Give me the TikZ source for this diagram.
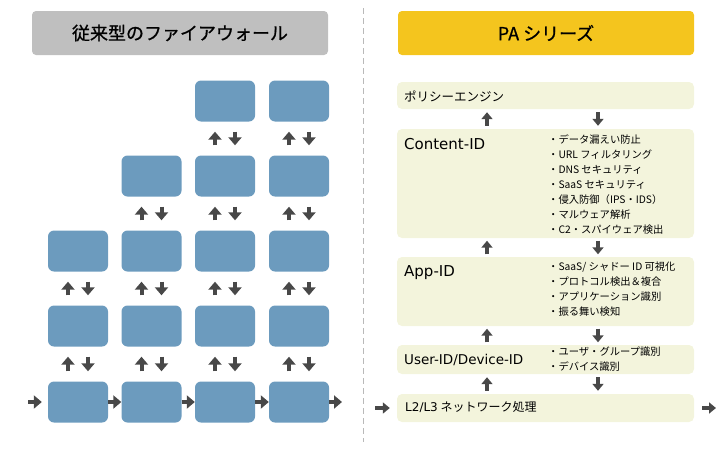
\documentclass[tikz,border=0pt]{standalone}
\usepackage{fontspec}
\setmainfont{Noto Sans CJK JP}
\newfontfamily\latinfont{DejaVu Sans}
\newfontfamily\headfont[FakeBold=0.8]{Noto Sans CJK JP}
\usetikzlibrary{arrows.meta}
\usetikzlibrary{shapes.geometric}
\definecolor{boxblue}{RGB}{108,155,190}
\definecolor{hdrgray}{RGB}{191,191,191}
\definecolor{hdryellow}{RGB}{244,197,30}
\definecolor{paback}{RGB}{243,244,220}
\definecolor{arrowgray}{RGB}{72,72,72}
\newcommand\fwwidth{60}
\newcommand\fwheight{41}
\newcommand\pawidth{297}
\tikzstyle{header} = [rectangle, rounded corners=4pt, minimum width=296pt, minimum height=44pt, inner sep=0pt, font=\headfont\fontsize{18}{20}\selectfont]
\tikzstyle{fwbox} = [rectangle, rounded corners=6pt, fill=boxblue, minimum width=\fwwidth pt, minimum height=\fwheight pt, inner sep=0pt]
\tikzstyle{pabox} = [rectangle, rounded corners=5pt, fill=paback, minimum width=\pawidth pt, inner sep=0pt]
\tikzstyle{patitle} = [anchor=west, inner sep=0pt, text=black]
\tikzstyle{palist} = [anchor=north west, inner sep=0pt, align=left, font=\fontsize{10.3}{15}\selectfont]
\tikzstyle{fwarrow} = [line width=4pt, draw=arrowgray, -{Triangle[width=13pt,length=8pt]}]
\tikzstyle{paarrow} = [line width=3.5pt, draw=arrowgray, -{Triangle[width=11pt,length=7pt]}]

\begin{document}
\begin{tikzpicture}[x=1pt, y=-1pt]
	    \useasboundingbox (0,0) rectangle (728,450);

	    \node[header, fill=hdrgray] (fwhead) at (180,33) {従来型のファイアウォール};
	    \node[header, fill=hdryellow] (pahead) at (546,33) {PA シリーズ};

	    \coordinate (divtop) at (363,8);
	    \coordinate (divbot) at (363,442);
	    \draw[gray!55, dash pattern=on 6pt off 4pt] (divtop) -- (divbot);

	    \node[fwbox] (r1c1) at (78,402) {};
	    \node[fwbox] (r1c2) at (151.5,402) {};
	    \node[fwbox] (r1c3) at (225,402) {};
	    \node[fwbox] (r1c4) at (299,402) {};
	    \node[fwbox] (r2c1) at (78,326) {};
	    \node[fwbox] (r2c2) at (151.5,326) {};
	    \node[fwbox] (r2c3) at (225,326) {};
	    \node[fwbox] (r2c4) at (299,326) {};
	    \node[fwbox] (r3c1) at (78,251) {};
	    \node[fwbox] (r3c2) at (151.5,251) {};
	    \node[fwbox] (r3c3) at (225,251) {};
	    \node[fwbox] (r3c4) at (299,251) {};
	    \node[fwbox] (r4c2) at (151.5,176) {};
	    \node[fwbox] (r4c3) at (225,176) {};
	    \node[fwbox] (r4c4) at (299,176) {};
	    \node[fwbox] (r5c3) at (225,101) {};
	    \node[fwbox] (r5c4) at (299,101) {};

	    \coordinate (fwin) at (28,402);
	    \coordinate (fwout) at (342,402);
	    \draw[fwarrow, shorten >=6pt] (fwin) -- (r1c1.west);
	    \draw[fwarrow] (r1c1.east) -- (r1c2.west);
	    \draw[fwarrow] (r1c2.east) -- (r1c3.west);
	    \draw[fwarrow] (r1c3.east) -- (r1c4.west);
	    \draw[fwarrow] (r1c4.east) -- (fwout);

	    \draw[fwarrow, shorten <=10pt, shorten >=10pt] ([xshift=-10pt]r1c1.north) -- ([xshift=-10pt]r2c1.south);
	    \draw[fwarrow, shorten <=10pt, shorten >=10pt] ([xshift=10pt]r2c1.south) -- ([xshift=10pt]r1c1.north);
	    \draw[fwarrow, shorten <=10pt, shorten >=10pt] ([xshift=-10pt]r1c2.north) -- ([xshift=-10pt]r2c2.south);
	    \draw[fwarrow, shorten <=10pt, shorten >=10pt] ([xshift=10pt]r2c2.south) -- ([xshift=10pt]r1c2.north);
	    \draw[fwarrow, shorten <=10pt, shorten >=10pt] ([xshift=-10pt]r1c3.north) -- ([xshift=-10pt]r2c3.south);
	    \draw[fwarrow, shorten <=10pt, shorten >=10pt] ([xshift=10pt]r2c3.south) -- ([xshift=10pt]r1c3.north);
	    \draw[fwarrow, shorten <=10pt, shorten >=10pt] ([xshift=-10pt]r1c4.north) -- ([xshift=-10pt]r2c4.south);
	    \draw[fwarrow, shorten <=10pt, shorten >=10pt] ([xshift=10pt]r2c4.south) -- ([xshift=10pt]r1c4.north);

	    \draw[fwarrow, shorten <=10pt, shorten >=10pt] ([xshift=-10pt]r2c1.north) -- ([xshift=-10pt]r3c1.south);
	    \draw[fwarrow, shorten <=10pt, shorten >=10pt] ([xshift=10pt]r3c1.south) -- ([xshift=10pt]r2c1.north);
	    \draw[fwarrow, shorten <=10pt, shorten >=10pt] ([xshift=-10pt]r2c2.north) -- ([xshift=-10pt]r3c2.south);
	    \draw[fwarrow, shorten <=10pt, shorten >=10pt] ([xshift=10pt]r3c2.south) -- ([xshift=10pt]r2c2.north);
	    \draw[fwarrow, shorten <=10pt, shorten >=10pt] ([xshift=-10pt]r2c3.north) -- ([xshift=-10pt]r3c3.south);
	    \draw[fwarrow, shorten <=10pt, shorten >=10pt] ([xshift=10pt]r3c3.south) -- ([xshift=10pt]r2c3.north);
	    \draw[fwarrow, shorten <=10pt, shorten >=10pt] ([xshift=-10pt]r2c4.north) -- ([xshift=-10pt]r3c4.south);
	    \draw[fwarrow, shorten <=10pt, shorten >=10pt] ([xshift=10pt]r3c4.south) -- ([xshift=10pt]r2c4.north);

	    \draw[fwarrow, shorten <=10pt, shorten >=10pt] ([xshift=-10pt]r3c2.north) -- ([xshift=-10pt]r4c2.south);
	    \draw[fwarrow, shorten <=10pt, shorten >=10pt] ([xshift=10pt]r4c2.south) -- ([xshift=10pt]r3c2.north);
	    \draw[fwarrow, shorten <=10pt, shorten >=10pt] ([xshift=-10pt]r3c3.north) -- ([xshift=-10pt]r4c3.south);
	    \draw[fwarrow, shorten <=10pt, shorten >=10pt] ([xshift=10pt]r4c3.south) -- ([xshift=10pt]r3c3.north);
	    \draw[fwarrow, shorten <=10pt, shorten >=10pt] ([xshift=-10pt]r3c4.north) -- ([xshift=-10pt]r4c4.south);
	    \draw[fwarrow, shorten <=10pt, shorten >=10pt] ([xshift=10pt]r4c4.south) -- ([xshift=10pt]r3c4.north);

	    \draw[fwarrow, shorten <=10pt, shorten >=10pt] ([xshift=-10pt]r4c3.north) -- ([xshift=-10pt]r5c3.south);
	    \draw[fwarrow, shorten <=10pt, shorten >=10pt] ([xshift=10pt]r5c3.south) -- ([xshift=10pt]r4c3.north);
	    \draw[fwarrow, shorten <=10pt, shorten >=10pt] ([xshift=-10pt]r4c4.north) -- ([xshift=-10pt]r5c4.south);
	    \draw[fwarrow, shorten <=10pt, shorten >=10pt] ([xshift=10pt]r5c4.south) -- ([xshift=10pt]r4c4.north);

	    \node[pabox, minimum height=27pt] (policy) at (545.5,95.5) {};
	    \node[pabox, minimum height=109pt] (contentid) at (545.5,183.5) {};
	    \node[pabox, minimum height=69pt] (appid) at (545.5,291.5) {};
	    \node[pabox, minimum height=29pt] (userid) at (545.5,359.5) {};
	    \node[pabox, minimum height=28pt] (l2l3) at (545.5,408) {};

	    \node[patitle, font=\fontsize{12.5}{14}\selectfont] (policytxt) at (404,96) {ポリシーエンジン};
	    \node[patitle, font=\latinfont\fontsize{15}{17}\selectfont] (contenttxt) at (404,144) {Content-ID};
	    \node[patitle, font=\latinfont\fontsize{15}{17}\selectfont] (apptxt) at (404,273) {App-ID};
	    \node[patitle, font=\latinfont\fontsize{13.5}{15}\selectfont] (usertxt) at (404,360) {User-ID/Device-ID};
	    \node[patitle, font=\fontsize{12}{14}\selectfont] (l2l3txt) at (405,407) {{\latinfont L2/L3} ネットワーク処理};

	    \node[palist] (contentlist) at (548,135) {・データ漏えい防止\\・URL フィルタリング\\・DNS セキュリティ\\・SaaS セキュリティ\\・侵入防御（IPS・IDS）\\・マルウェア解析\\・C2・スパイウェア検出};
	    \node[palist] (applist) at (548,262) {・SaaS/ シャドー ID 可視化\\・プロトコル検出＆複合\\・アプリケーション識別\\・振る舞い検知};
	    \node[palist] (userlist) at (548,347) {・ユーザ・グループ識別\\・デバイス識別};

	    \draw[paarrow, shorten <=3pt, shorten >=3pt] ([xshift=-58.5pt]contentid.north) -- ([xshift=-58.5pt]policy.south);
	    \draw[paarrow, shorten <=3pt, shorten >=3pt] ([xshift=52.5pt]policy.south) -- ([xshift=52.5pt]contentid.north);
	    \draw[paarrow, shorten <=2.5pt, shorten >=2.5pt] ([xshift=-58.5pt]appid.north) -- ([xshift=-58.5pt]contentid.south);
	    \draw[paarrow, shorten <=2.5pt, shorten >=2.5pt] ([xshift=52.5pt]contentid.south) -- ([xshift=52.5pt]appid.north);
	    \draw[paarrow, shorten <=2.5pt, shorten >=2.5pt] ([xshift=-58.5pt]userid.north) -- ([xshift=-58.5pt]appid.south);
	    \draw[paarrow, shorten <=2.5pt, shorten >=2.5pt] ([xshift=52.5pt]appid.south) -- ([xshift=52.5pt]userid.north);
	    \draw[paarrow, shorten <=3pt, shorten >=3pt] ([xshift=-58.5pt]l2l3.north) -- ([xshift=-58.5pt]userid.south);
	    \draw[paarrow, shorten <=3pt, shorten >=3pt] ([xshift=52.5pt]userid.south) -- ([xshift=52.5pt]l2l3.north);

	    \coordinate (pain) at (375,408);
	    \coordinate (paout) at (716,408);
	    \draw[paarrow, shorten >=7pt] (pain) -- (l2l3.west);
	    \draw[paarrow, shorten <=8pt] (l2l3.east) -- (paout);
	\end{tikzpicture}
\end{document}
